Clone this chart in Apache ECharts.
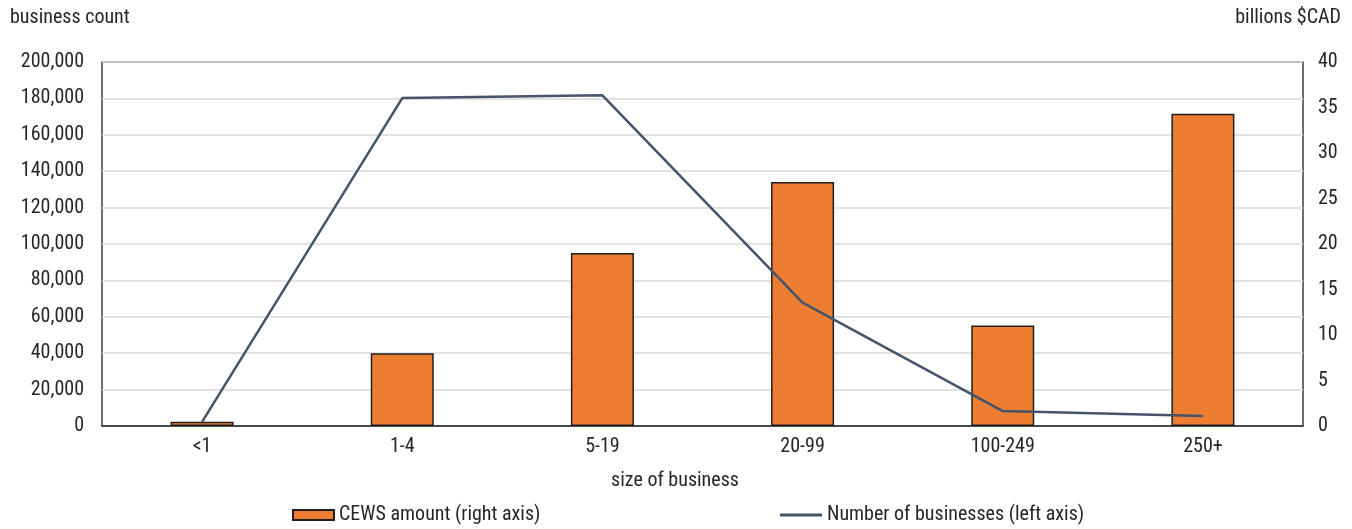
<!DOCTYPE html>
<html>
<head>
<meta charset="utf-8">
<script src="https://cdn.jsdelivr.net/npm/echarts@6/dist/echarts.min.js"></script>
<style>
  html, body { margin: 0; padding: 0; background: #fff; }
  #chart { width: 1352px; height: 529px; }
</style>
</head>
<body>
<div id="chart"></div>
<script>
// Business size classes (number of employees)
const categories = ['<1', '1-4', '5-19', '20-99', '100-249', '250+'];
// CEWS amount, billions $CAD (right axis)
const cewsAmount = [0.47, 8.0, 19.0, 26.8, 11.05, 34.3];
// Number of businesses (left axis)
const businessCount = [2300, 180200, 181700, 67800, 8200, 5500];

const FONT = '"Liberation Sans Narrow", "Roboto Condensed", "DejaVu Sans Condensed", "Liberation Sans", sans-serif';
const TEXT = '#262626';
const FS = 20;

const chart = echarts.init(document.getElementById('chart'), null, { renderer: 'canvas' });

chart.setOption({
  animation: false,
  textStyle: { fontFamily: FONT, color: TEXT },
  grid: {
    left: 102, right: 49, top: 62, bottom: 103,
    show: true, borderColor: '#404040', borderWidth: 1.5, backgroundColor: 'transparent'
  },
  graphic: [
    { type: 'text', x: 10, y: 8, style: { text: 'business count', font: FS + 'px ' + FONT, fill: TEXT } },
    { type: 'text', x: 1341, y: 8, style: { text: 'billions $CAD', font: FS + 'px ' + FONT, fill: TEXT, align: 'right' } },
    { type: 'text', x: 675, y: 471, style: { text: 'size of business', font: FS + 'px ' + FONT, fill: TEXT, align: 'center' } }
  ],
  legend: [
    {
      left: 292, top: 505, padding: 0,
      itemWidth: 41, itemHeight: 10, itemGap: 5,
      textStyle: { fontFamily: FONT, fontSize: FS, color: TEXT },
      data: [{ name: 'CEWS amount (right axis)', icon: 'rect' }]
    },
    {
      left: 780, top: 505, padding: 0,
      itemWidth: 42, itemHeight: 3, itemGap: 4,
      textStyle: { fontFamily: FONT, fontSize: FS, color: TEXT },
      data: [{ name: 'Number of businesses (left axis)', icon: 'rect' }]
    }
  ],
  xAxis: {
    type: 'category',
    data: categories,
    axisTick: { show: false },
    axisLine: { lineStyle: { color: '#262626', width: 1.5 } },
    axisLabel: { fontFamily: FONT, fontSize: FS, color: TEXT, margin: 11 }
  },
  yAxis: [
    {
      type: 'value', min: 0, max: 200000, interval: 20000,
      axisLine: { show: false }, axisTick: { show: false },
      splitLine: { lineStyle: { color: '#d9d9d9', width: 1.5 } },
      axisLabel: {
        fontFamily: FONT, fontSize: FS, color: TEXT, margin: 18,
        formatter: v => v.toLocaleString('en-US')
      }
    },
    {
      type: 'value', min: 0, max: 40, interval: 5,
      axisLine: { show: false }, axisTick: { show: false },
      splitLine: { show: false },
      axisLabel: { fontFamily: FONT, fontSize: FS, color: TEXT, margin: 15 }
    }
  ],
  series: [
    {
      name: 'CEWS amount (right axis)',
      type: 'bar',
      yAxisIndex: 1,
      data: cewsAmount,
      barWidth: 63,
      itemStyle: { color: '#ED7D31', borderColor: '#1f1f1f', borderWidth: 1.5 },
      z: 2
    },
    {
      name: 'Number of businesses (left axis)',
      type: 'line',
      yAxisIndex: 0,
      data: businessCount,
      symbol: 'none',
      lineStyle: { color: '#44546A', width: 2.5 },
      itemStyle: { color: '#44546A' },
      z: 3
    }
  ]
});
</script>
</body>
</html>
